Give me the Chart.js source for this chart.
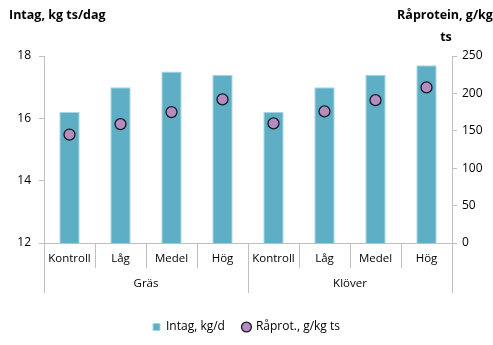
<!DOCTYPE html>
<html>
<head>
<meta charset="utf-8">
<script src="https://cdn.jsdelivr.net/npm/chart.js@4/dist/chart.umd.min.js"></script>
<style>
  html, body { margin: 0; padding: 0; background: #fff; }
  #wrap { width: 493px; height: 345px; }
</style>
</head>
<body>
<div id="wrap"><canvas id="c"></canvas></div>
<script>
const categories = ['Kontroll', 'Låg', 'Medel', 'Hög', 'Kontroll', 'Låg', 'Medel', 'Hög'];
const groups = ['Gräs', 'Klöver'];
const groupSize = 4;
const intag = [16.2, 17.0, 17.5, 17.4, 16.2, 17.0, 17.4, 17.7];
const raprotein = [145, 159, 175, 192, 160, 176, 191, 208];
const leftTicks = [12, 14, 16, 18];
const rightTicks = [0, 50, 100, 150, 200, 250];

const FONT = "'Open Sans', 'Noto Sans', sans-serif";
const AXIS = '#bfbfbf';

// draws the excel style two-level category axis and the top axis titles
const extras = {
  id: 'extras',
  afterDraw(chart) {
    const ctx = chart.ctx;
    const x = chart.scales.x;
    const area = chart.chartArea;
    const n = categories.length;
    const edge = i => {
      if (i === 0) return x.left;
      if (i === n) return x.right;
      return (x.getPixelForValue(i - 1) + x.getPixelForValue(i)) / 2;
    };
    ctx.save();
    ctx.strokeStyle = AXIS;
    ctx.lineWidth = 1;
    for (let i = 0; i <= n; i++) {
      const px = Math.round(edge(i)) + 0.5;
      const len = i % groupSize === 0 ? 50 : 25;
      ctx.beginPath();
      ctx.moveTo(px, area.bottom);
      ctx.lineTo(px, area.bottom + len);
      ctx.stroke();
    }
    ctx.fillStyle = '#000';
    ctx.font = '11.5px ' + FONT;
    ctx.textAlign = 'center';
    ctx.textBaseline = 'middle';
    groups.forEach((g, gi) => {
      const cx = (edge(gi * groupSize) + edge((gi + 1) * groupSize)) / 2;
      ctx.fillText(g, cx, area.bottom + 41);
    });
    ctx.font = 'bold 12.5px ' + FONT;
    ctx.textAlign = 'left';
    ctx.fillText('Intag, kg ts/dag', 9, 15);
    ctx.textAlign = 'center';
    ctx.fillText('Råprotein, g/kg', 445, 15);
    ctx.fillText('ts', 446, 37);
    ctx.restore();
  }
};

new Chart(document.getElementById('c'), {
  data: {
    labels: categories,
    datasets: [
      {
        type: 'line',
        label: 'Råprot., g/kg ts',
        data: raprotein,
        yAxisID: 'y1',
        showLine: false,
        pointStyle: 'circle',
        pointRadius: 5.5,
        pointHoverRadius: 5.5,
        pointBackgroundColor: '#b48cc2',
        pointBorderColor: '#1a1a1a',
        pointBorderWidth: 1.3,
        backgroundColor: '#b48cc2',
        borderColor: '#1a1a1a',
        borderWidth: 1.3
      },
      {
        type: 'bar',
        label: 'Intag, kg/d',
        data: intag,
        yAxisID: 'y',
        backgroundColor: '#5eafc6',
        borderColor: '#a8d4e2',
        borderWidth: 1,
        pointStyle: 'rect',
        categoryPercentage: 1,
        barPercentage: 0.4
      }
    ]
  },
  options: {
    responsive: true,
    maintainAspectRatio: false,
    animation: false,
    layout: { padding: { top: 56, left: 0, right: 0, bottom: 2 } },
    plugins: {
      legend: {
        position: 'bottom',
        reverse: true,
        labels: {
          usePointStyle: true,
          boxWidth: 7,
          boxHeight: 7,
          color: '#000',
          font: { family: FONT, size: 12 },
          padding: 18
        }
      },
      tooltip: { enabled: false }
    },
    scales: {
      x: {
        offset: true,
        grid: { display: true, drawOnChartArea: false, drawTicks: false, color: AXIS },
        border: { display: true, color: AXIS },
        ticks: { color: '#000', font: { family: FONT, size: 11.5 }, padding: 9, maxRotation: 0, autoSkip: false },
        afterFit: s => { s.height = 60; }
      },
      y: {
        position: 'left',
        min: 12, max: 18,
        afterBuildTicks: s => { s.ticks = leftTicks.map(v => ({ value: v })); },
        grid: { drawOnChartArea: false, drawTicks: true, tickLength: 5, color: AXIS },
        border: { display: true, color: AXIS },
        ticks: { color: '#000', font: { family: FONT, size: 12 }, padding: 8 },
        afterFit: s => { s.width = 44; }
      },
      y1: {
        position: 'right',
        min: 0, max: 250,
        afterBuildTicks: s => { s.ticks = rightTicks.map(v => ({ value: v })); },
        grid: { drawOnChartArea: false, drawTicks: true, tickLength: 5, color: AXIS },
        border: { display: true, color: AXIS },
        ticks: { color: '#000', font: { family: FONT, size: 12 }, padding: 5 },
        afterFit: s => { s.width = 41; }
      }
    }
  },
  plugins: [extras]
});
</script>
</body>
</html>
